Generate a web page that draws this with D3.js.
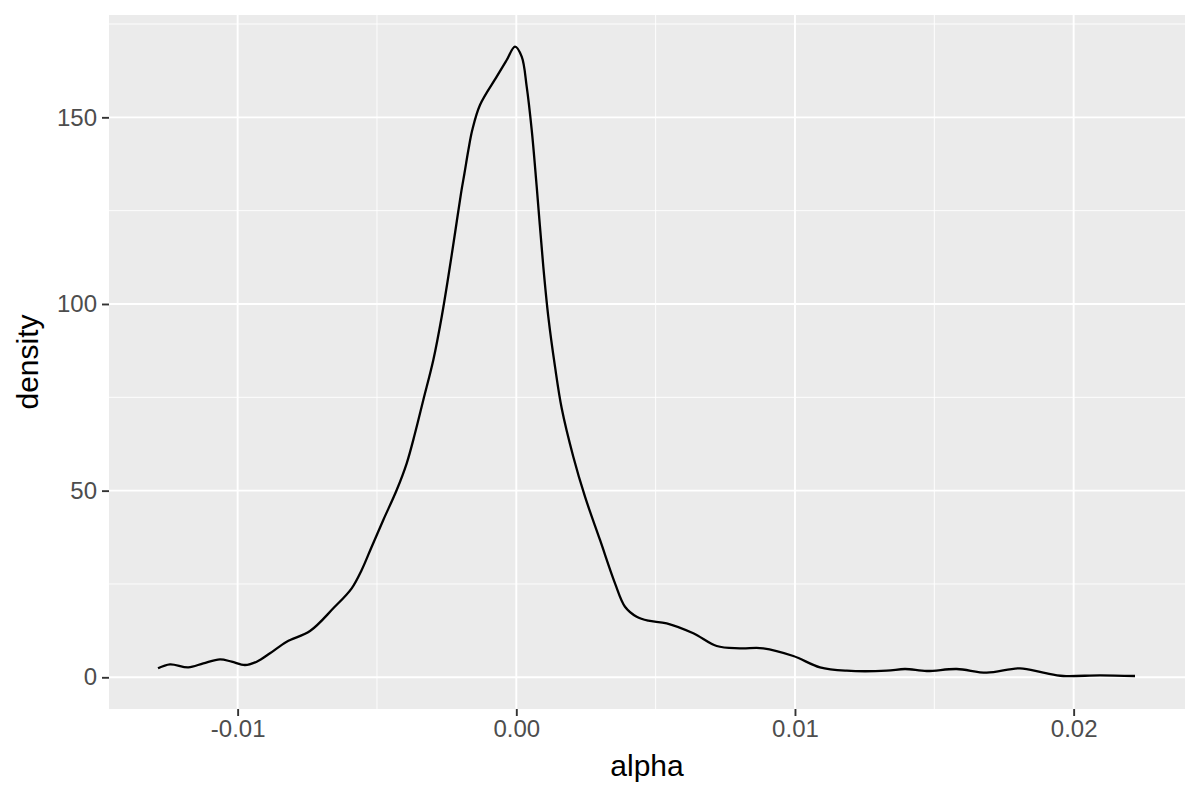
<!DOCTYPE html>
<html>
<head>
<meta charset="utf-8">
<script src="https://cdn.jsdelivr.net/npm/d3@7"></script>
<style>
  html, body { margin: 0; padding: 0; background: #ffffff; }
  svg { display: block; }
  text { font-family: "Liberation Sans", Arial, Helvetica, sans-serif; }
</style>
</head>
<body>
<svg id="chart" width="1200" height="800"></svg>
<script>
// ---- data ----
const alphaValues = [
  -0.012857, -0.012427, -0.011770, -0.011232, -0.010633, -0.010213, -0.009736, -0.009316,
  -0.008838, -0.008239, -0.007403, -0.006567, -0.005907, -0.005548, -0.005189, -0.004773,
  -0.004292, -0.003933, -0.003635, -0.003337, -0.002978, -0.002677, -0.002440, -0.002200,
  -0.001984, -0.001860, -0.001720, -0.001580, -0.001303, -0.000703, -0.000344, -0.000047,
   0.000194,  0.000373,  0.000553,  0.000732,  0.000969,  0.001148,  0.001389,
   0.001629,  0.002045,  0.002465,  0.003004,  0.003542,  0.003901,  0.004320,  0.004737,
   0.005397,  0.006352,  0.007191,  0.008027,  0.008863,  0.009940,  0.010898,  0.011856,
   0.013292,  0.013948,  0.014727,  0.015804,  0.016880,  0.018075,  0.018911,  0.019629,
   0.020946,  0.022202
];
const densityValues = [
   2.41,   3.48,   2.68,   3.75,   4.82,   4.18,   3.29,   4.18,
   6.43,   9.54,  12.40,  18.48,  23.84,  28.74,  34.99,  42.14,
  50.17,  57.33,  65.36,  74.28,  85.00,  96.60, 107.31, 118.94,
 129.65, 135.01, 141.25, 146.61, 153.31, 160.89, 165.36, 168.93,
 166.24, 158.21, 146.61, 131.42, 109.99,  96.60,  83.20,
  72.06,  59.09,  48.38,  36.78,  25.18,  18.91,  16.23,  15.16,
  14.47,  11.79,   8.38,   7.77,   7.77,   5.71,   2.68,   1.77,
   1.77,   2.22,   1.69,   2.22,   1.23,   2.41,   1.23,   0.35,
   0.54,   0.35
];
const xTicks = [-0.01, 0.00, 0.01, 0.02];
const xTickLabels = ["-0.01", "0.00", "0.01", "0.02"];
const xMinor = [-0.005, 0.005, 0.015];
const yTicks = [0, 50, 100, 150];
const yTickLabels = ["0", "50", "100", "150"];
const yMinor = [25, 75, 125, 175];
const xTitle = "alpha";
const yTitle = "density";

// ---- layout ----
const panel = { left: 109, top: 15, right: 1185, bottom: 709 };
const svg = d3.select("#chart");

const x = d3.scaleLinear().domain([-0.014616, 0.023996]).range([panel.left, panel.right]);
const y = d3.scaleLinear().domain([-8.49, 177.41]).range([panel.bottom, panel.top]);

// background
svg.append("rect")
  .attr("x", panel.left).attr("y", panel.top)
  .attr("width", panel.right - panel.left).attr("height", panel.bottom - panel.top)
  .attr("fill", "#EBEBEB");

const grid = svg.append("g");
// minor grid
grid.selectAll(".xminor").data(xMinor).join("line")
  .attr("x1", d => x(d)).attr("x2", d => x(d))
  .attr("y1", panel.top).attr("y2", panel.bottom)
  .attr("stroke", "#ffffff").attr("stroke-width", 0.9);
grid.selectAll(".yminor").data(yMinor).join("line")
  .attr("y1", d => y(d)).attr("y2", d => y(d))
  .attr("x1", panel.left).attr("x2", panel.right)
  .attr("stroke", "#ffffff").attr("stroke-width", 0.9);
// major grid
grid.selectAll(".xmajor").data(xTicks).join("line")
  .attr("x1", d => x(d)).attr("x2", d => x(d))
  .attr("y1", panel.top).attr("y2", panel.bottom)
  .attr("stroke", "#ffffff").attr("stroke-width", 1.9);
grid.selectAll(".ymajor").data(yTicks).join("line")
  .attr("y1", d => y(d)).attr("y2", d => y(d))
  .attr("x1", panel.left).attr("x2", panel.right)
  .attr("stroke", "#ffffff").attr("stroke-width", 1.9);

// density line
const pts = alphaValues.map((a, i) => [a, densityValues[i]]);
const line = d3.line().x(d => x(d[0])).y(d => y(d[1])).curve(d3.curveCatmullRom.alpha(0.5));
svg.append("path")
  .datum(pts)
  .attr("d", line)
  .attr("fill", "none")
  .attr("stroke", "#000000")
  .attr("stroke-width", 2.3)
  .attr("stroke-linejoin", "round");

// axes
const xAxis = d3.axisBottom(x).tickValues(xTicks).tickFormat((d, i) => xTickLabels[i])
  .tickSize(7).tickPadding(4);
const gx = svg.append("g").attr("transform", `translate(0,${panel.bottom})`).call(xAxis);
gx.select(".domain").remove();
gx.selectAll(".tick line").attr("stroke", "#333333").attr("stroke-width", 1.9);
gx.selectAll(".tick text").attr("fill", "#4D4D4D").attr("font-size", 24).attr("dy", "0.71em");

const yAxis = d3.axisLeft(y).tickValues(yTicks).tickFormat((d, i) => yTickLabels[i])
  .tickSize(7).tickPadding(5);
const gy = svg.append("g").attr("transform", `translate(${panel.left},0)`).call(yAxis);
gy.select(".domain").remove();
gy.selectAll(".tick line").attr("stroke", "#333333").attr("stroke-width", 1.9);
gy.selectAll(".tick text").attr("fill", "#4D4D4D").attr("font-size", 24);

// titles
svg.append("text")
  .attr("x", (panel.left + panel.right) / 2).attr("y", 776)
  .attr("text-anchor", "middle").attr("font-size", 30).attr("fill", "#000000")
  .text(xTitle);
svg.append("text")
  .attr("transform", `translate(38,${(panel.top + panel.bottom) / 2}) rotate(-90)`)
  .attr("text-anchor", "middle").attr("font-size", 30).attr("fill", "#000000")
  .text(yTitle);
</script>
</body>
</html>
